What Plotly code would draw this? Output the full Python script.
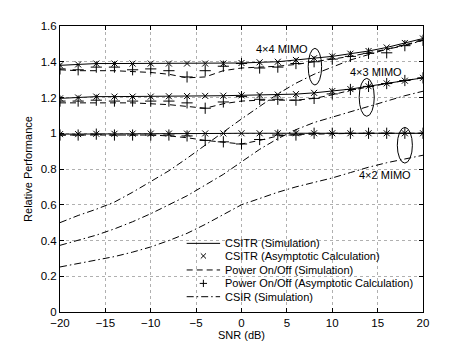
import plotly.graph_objects as go

snr = [-20, -18, -16, -14, -12, -10, -8, -6, -4, -2, 0, 2, 4, 6, 8, 10, 12, 14, 16, 18, 20]

# 4x4 MIMO
csitr_44 = [1.38, 1.385, 1.39, 1.39, 1.39, 1.39, 1.39, 1.39, 1.39, 1.39, 1.393, 1.397, 1.40, 1.41, 1.42,
            1.43, 1.445, 1.46, 1.48, 1.505, 1.53]
onoff_44 = [1.355, 1.35, 1.35, 1.35, 1.345, 1.34, 1.33, 1.31, 1.315, 1.35, 1.365, 1.37, 1.375, 1.385, 1.40,
            1.415, 1.43, 1.45, 1.47, 1.495, 1.52]
onoff_asym_44 = [1.36, 1.355, 1.37, 1.37, 1.355, 1.36, 1.35, 1.315, 1.35, 1.375, 1.39, 1.365, 1.37, 1.39, 1.40,
                 1.415, 1.43, 1.447, 1.45, 1.49, 1.52]
csir_44 = [0.50, 0.54, 0.575, 0.615, 0.67, 0.73, 0.79, 0.86, 0.935, 1.01, 1.08, 1.15, 1.22, 1.28, 1.33,
           1.37, 1.41, 1.44, 1.47, 1.49, 1.52]

# 4x3 MIMO
csitr_43 = [1.195, 1.20, 1.205, 1.205, 1.205, 1.205, 1.207, 1.208, 1.209, 1.21, 1.212, 1.214, 1.216, 1.219, 1.226,
            1.236, 1.247, 1.263, 1.279, 1.294, 1.31]
onoff_43 = [1.17, 1.17, 1.17, 1.17, 1.17, 1.165, 1.16, 1.15, 1.14, 1.165, 1.18, 1.185, 1.185, 1.185, 1.195,
            1.215, 1.24, 1.26, 1.278, 1.295, 1.31]
onoff_asym_43 = [1.18, 1.18, 1.185, 1.18, 1.18, 1.18, 1.18, 1.17, 1.14, 1.175, 1.205, 1.19, 1.19, 1.185, 1.195,
                 1.22, 1.245, 1.262, 1.278, 1.295, 1.31]
csir_43 = [0.373, 0.40, 0.43, 0.465, 0.505, 0.55, 0.60, 0.65, 0.71, 0.77, 0.84, 0.91, 0.97, 1.02, 1.06,
           1.09, 1.12, 1.15, 1.18, 1.21, 1.235]

# 4x2 MIMO
csitr_42 = [0.995, 0.995, 0.997, 0.997, 0.998, 0.998, 0.998, 0.998, 0.999, 0.999, 1.0, 1.0, 1.0, 1.0, 1.0,
            1.0, 1.0, 1.0, 1.0, 1.0, 1.0]
onoff_42 = [0.99, 0.99, 0.99, 0.99, 0.99, 0.99, 0.985, 0.975, 0.96, 0.95, 0.94, 0.96, 0.985, 0.993, 0.996,
            0.998, 0.999, 1.0, 1.0, 1.0, 1.0]
onoff_asym_42 = [0.99, 0.99, 0.995, 0.99, 0.99, 0.99, 0.99, 0.985, 0.96, 0.952, 0.94, 0.965, 0.99, 0.99, 1.0,
                 1.0, 1.0, 1.0, 1.0, 1.0, 1.0]
csir_42 = [0.252, 0.27, 0.29, 0.31, 0.335, 0.364, 0.40, 0.44, 0.49, 0.545, 0.60, 0.635, 0.67, 0.70, 0.725,
           0.75, 0.78, 0.81, 0.835, 0.857, 0.877]

legend_names = ["CSITR (Simulation)", "CSITR (Asymptotic Calculation)", "Power On/Off (Simulation)",
                "Power On/Off (Asymptotic Calculation)", "CSIR (Simulation)"]

FONT = "Liberation Sans, Arial, Helvetica, sans-serif"
DASH = "6px,4px"
DASHDOT = "7px,3px,1.5px,3px"

fig = go.Figure()

groups = [
    (csitr_44, onoff_44, onoff_asym_44, csir_44),
    (csitr_43, onoff_43, onoff_asym_43, csir_43),
    (csitr_42, onoff_42, onoff_asym_42, csir_42),
]

for csitr, onoff, onoff_asym, csir in groups:
    fig.add_trace(go.Scatter(x=snr, y=csitr, mode="lines", name=legend_names[0], showlegend=False,
                             line=dict(color="black", width=1)))
    fig.add_trace(go.Scatter(x=snr, y=csitr, mode="markers", name=legend_names[1], showlegend=False,
                             marker=dict(symbol="x-thin", size=6, color="black",
                                         line=dict(color="black", width=1))))
    fig.add_trace(go.Scatter(x=snr, y=onoff, mode="lines", name=legend_names[2], showlegend=False,
                             line=dict(color="black", width=1, dash=DASH)))
    fig.add_trace(go.Scatter(x=snr, y=onoff_asym, mode="markers", name=legend_names[3], showlegend=False,
                             marker=dict(symbol="cross-thin", size=8, color="black",
                                         line=dict(color="black", width=1))))
    fig.add_trace(go.Scatter(x=snr, y=csir, mode="lines", name=legend_names[4], showlegend=False,
                             line=dict(color="black", width=1, dash=DASHDOT)))

# MIMO labels and ellipses
labels = [("4×4 MIMO", 4.45, 1.469), ("4×3 MIMO", 14.8, 1.344), ("4×2 MIMO", 15.8, 0.765)]
for text, lx, ly in labels:
    fig.add_annotation(x=lx, y=ly, text=text, showarrow=False,
                       font=dict(family=FONT, size=11, color="black"))

ellipses = [(7.35, 8.83, 1.27, 1.475), (12.97, 14.63, 1.095, 1.307), (17.17, 18.83, 0.833, 1.033)]
for x0, x1, y0, y1 in ellipses:
    fig.add_shape(type="circle", xref="x", yref="y", x0=x0, x1=x1, y0=y0, y1=y1,
                  line=dict(color="black", width=1))

# compact legend (matlab style, no box)
key_x0, key_x1, key_mid, text_x = 0.349, 0.441, 0.395, 0.448
row_y = [0.240, 0.196, 0.147, 0.100, 0.0535]
key_styles = ["solid", "x", DASH, "+", DASHDOT]
dx, dy = 2.6 / 363, 2.6 / 286
for name, ry, style in zip(legend_names, row_y, key_styles):
    if style == "x":
        path = (f"M {key_mid - dx},{ry - dy} L {key_mid + dx},{ry + dy} "
                f"M {key_mid - dx},{ry + dy} L {key_mid + dx},{ry - dy}")
        fig.add_shape(type="path", xref="paper", yref="paper", path=path,
                      line=dict(color="black", width=1))
    elif style == "+":
        path = (f"M {key_mid - 1.4 * dx},{ry} L {key_mid + 1.4 * dx},{ry} "
                f"M {key_mid},{ry - 1.4 * dy} L {key_mid},{ry + 1.4 * dy}")
        fig.add_shape(type="path", xref="paper", yref="paper", path=path,
                      line=dict(color="black", width=1))
    else:
        fig.add_shape(type="line", xref="paper", yref="paper", x0=key_x0, x1=key_x1, y0=ry, y1=ry,
                      line=dict(color="black", width=1, dash=style))
    fig.add_annotation(xref="paper", yref="paper", x=text_x, y=ry, text=name, showarrow=False,
                       xanchor="left", yanchor="middle",
                       font=dict(family=FONT, size=11, color="black"))

axis_common = dict(
    showgrid=True, gridcolor="#b0b0b0", griddash="dot", gridwidth=1,
    showline=True, linecolor="black", linewidth=1, mirror="ticks",
    ticks="inside", ticklen=4, tickcolor="black",
    zeroline=False, automargin=False,
    tickfont=dict(family=FONT, size=11.5, color="black"),
)

fig.update_xaxes(range=[-20, 20], tickmode="array", tickvals=[-20, -15, -10, -5, 0, 5, 10, 15, 20],
                 title=dict(text="SNR (dB)", font=dict(family=FONT, size=11, color="black"), standoff=3),
                 **axis_common)
fig.update_yaxes(range=[0, 1.6], tickmode="array", tickvals=[0, 0.2, 0.4, 0.6, 0.8, 1, 1.2, 1.4, 1.6],
                 title=dict(text="Relative Performance", font=dict(family=FONT, size=11, color="black"),
                            standoff=5),
                 **axis_common)

# the page body keeps its default 8px margin, so the figure is 8px smaller and shifted
fig.update_layout(
    width=458, height=342,
    margin=dict(l=52, r=43, t=18, b=38),
    paper_bgcolor="white", plot_bgcolor="white",
    font=dict(family=FONT, size=11, color="black"),
    showlegend=False,
)

fig.write_html("out.html")
